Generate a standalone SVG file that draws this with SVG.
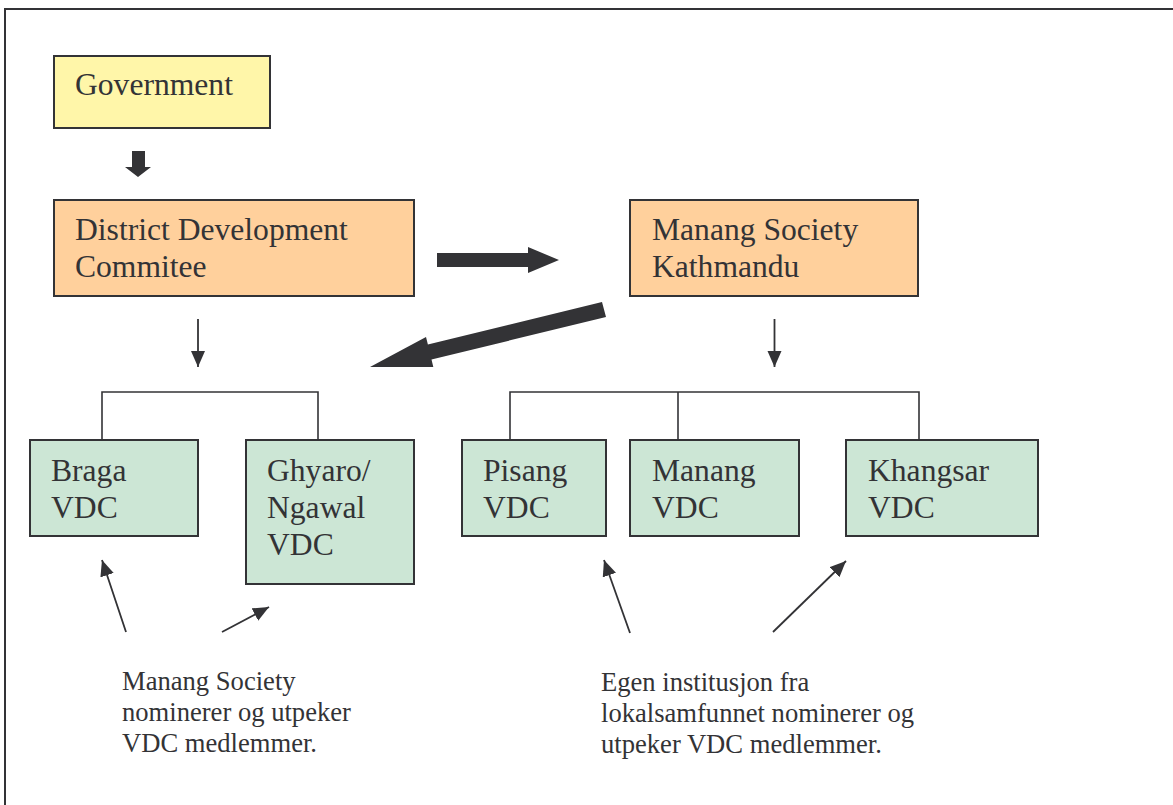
<svg xmlns="http://www.w3.org/2000/svg" width="1173" height="805" viewBox="0 0 1173 805">
<style>
.box{stroke:#333336;stroke-width:2}
.gov{fill:#FFF6A9}
.org{fill:#FFD09C}
.vdc{fill:#CCE6D5}
.t{font-family:"Liberation Serif","Times New Roman",serif;font-size:31.6px;fill:#333336}
.s{font-family:"Liberation Serif","Times New Roman",serif;font-size:26.6px;fill:#333336}
.ln{stroke:#333336;stroke-width:1.6;fill:none}
.ar{stroke:#333336;stroke-width:1.8;fill:none;marker-end:url(#ah)}
.big{fill:#333336}
</style>
<defs>
<marker id="ah" markerUnits="userSpaceOnUse" markerWidth="18" markerHeight="16" refX="16" refY="7" orient="auto">
<path d="M0,0 L16,7 L0,14 Z" fill="#333336"/>
</marker>
</defs>
<rect width="1173" height="805" fill="#ffffff"/>
<rect x="5" y="9" width="1180" height="810" fill="none" stroke="#333336" stroke-width="2"/>

<g id="government">
<rect class="box gov" x="54" y="56" width="216" height="72"/>
<text class="t" x="75" y="95">Government</text>
</g>
<g id="ddc">
<rect class="box org" x="54" y="200" width="360" height="96"/>
<text class="t" x="75" y="240">District Development</text>
<text class="t" x="75" y="277">Commitee</text>
</g>
<g id="manang-society">
<rect class="box org" x="630" y="200" width="288" height="96"/>
<text class="t" x="652" y="240">Manang Society</text>
<text class="t" x="652" y="277">Kathmandu</text>
</g>
<g id="braga">
<rect class="box vdc" x="30" y="440" width="168" height="96"/>
<text class="t" x="51" y="481">Braga</text>
<text class="t" x="51" y="518">VDC</text>
</g>
<g id="ghyaro">
<rect class="box vdc" x="246" y="440" width="168" height="144"/>
<text class="t" x="267" y="481">Ghyaro/</text>
<text class="t" x="267" y="518">Ngawal</text>
<text class="t" x="267" y="555">VDC</text>
</g>
<g id="pisang">
<rect class="box vdc" x="462" y="440" width="144" height="96"/>
<text class="t" x="483" y="481">Pisang</text>
<text class="t" x="483" y="518">VDC</text>
</g>
<g id="manang-vdc">
<rect class="box vdc" x="630" y="440" width="169" height="96"/>
<text class="t" x="652" y="481">Manang</text>
<text class="t" x="652" y="518">VDC</text>
</g>
<g id="khangsar">
<rect class="box vdc" x="846" y="440" width="192" height="96"/>
<text class="t" x="868" y="481">Khangsar</text>
<text class="t" x="868" y="518">VDC</text>
</g>
<g id="note-left">
<text class="s" x="122" y="690">Manang Society</text>
<text class="s" x="122" y="721">nominerer og utpeker</text>
<text class="s" x="122" y="752">VDC medlemmer.</text>
</g>
<g id="note-right">
<text class="s" x="601" y="691">Egen institusjon fra</text>
<text class="s" x="601" y="722">lokalsamfunnet nominerer og</text>
<text class="s" x="601" y="753">utpeker VDC medlemmer.</text>
</g>

<g id="connectors">
<polygon class="big" points="132,151 145,151 145,167 151,167 138,177 125,167 132,167"/>
<polygon class="big" points="437,253 528,253 528,247 559,260 528,273 528,267 437,267"/>
<polygon class="big" points="602,302 606,317 431.5,359.5 433.3,367 370,367 426,337 427.9,344.5"/>
<line class="ar" x1="198" y1="319" x2="198" y2="367"/>
<line class="ar" x1="774.5" y1="319" x2="774.5" y2="367"/>
<polyline class="ln" points="102,440 102,392 318,392 318,440"/>
<polyline class="ln" points="510,440 510,392 919,392 919,440"/>
<line class="ln" x1="678" y1="392" x2="678" y2="440"/>
<line class="ar" x1="126" y1="632" x2="102" y2="560"/>
<line class="ar" x1="222" y1="632" x2="269" y2="607"/>
<line class="ar" x1="630" y1="633" x2="604" y2="560"/>
<line class="ar" x1="773" y1="632" x2="846" y2="561"/>
</g>
</svg>
